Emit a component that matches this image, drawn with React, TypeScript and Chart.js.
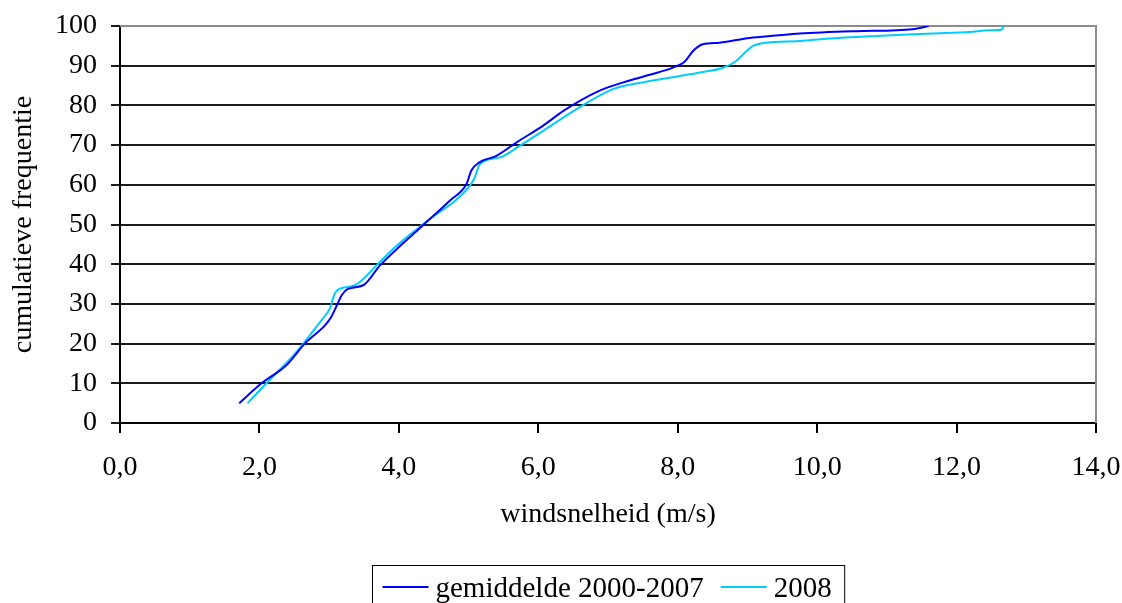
import React, { useEffect, useRef } from "react";
import { Chart, registerables } from "chart.js";

Chart.register(...registerables);

// ---- Data ----
const SERIES_LABELS = ["gemiddelde 2000-2007", "2008"];
const SERIES_COLORS = ["#0000ff", "#00ccff"];

const GEM_X = [1.71, 2.03, 2.39, 2.65, 2.94, 3.03, 3.11, 3.18, 3.27, 3.49, 3.73, 4.37, 4.73, 4.97, 5.04, 5.16, 5.40, 5.69, 6.07, 6.36, 6.88, 7.22, 7.60, 7.93, 8.10, 8.22, 8.36, 8.60, 9.03, 9.41, 9.75, 10.56, 11.37, 11.6];
const GEM_Y = [5, 10, 14.6, 20, 24.6, 26.7, 29.6, 32.2, 33.8, 34.7, 39.7, 50.2, 56, 60.2, 63.6, 65.7, 67.3, 70.7, 74.9, 78.6, 83.7, 85.8, 87.7, 89.5, 91, 93.7, 95.4, 95.8, 97, 97.6, 98.1, 98.7, 99.2, 100];

const Y2008_X = [1.83, 2.10, 2.49, 2.63, 2.89, 3.01, 3.08, 3.15, 3.37, 3.68, 3.92, 4.37, 5.02, 5.09, 5.16, 5.45, 5.73, 6.07, 6.59, 7.07, 7.50, 8.03, 8.32, 8.65, 8.84, 8.94, 9.08, 9.27, 9.75, 10.13, 10.85, 11.66, 12.19, 12.47, 12.66, 12.67];
const Y2008_Y = [5, 10, 17.1, 20, 25.9, 28.8, 32.6, 33.8, 34.7, 39.7, 43.9, 50.4, 59.8, 61.9, 65.2, 66.9, 69.8, 73.6, 79.5, 84.1, 85.8, 87.4, 88.3, 89.5, 91.2, 92.9, 95, 95.8, 96.2, 96.8, 97.5, 98.1, 98.5, 98.9, 99.2, 100];

const X_TICK_LABELS = ["0,0", "2,0", "4,0", "6,0", "8,0", "10,0", "12,0", "14,0"];
const Y_TICK_LABELS = ["0", "10", "20", "30", "40", "50", "60", "70", "80", "90", "100"];

const X_TITLE = "windsnelheid (m/s)";
const Y_TITLE = "cumulatieve frequentie";

const FONT_FAMILY = "'Liberation Serif', 'Times New Roman', serif";
const FONT_SIZE = 28;
const LEGEND_FONT_SIZE = 29;

const toPoints = (xs: number[], ys: number[]) => xs.map((x, i) => ({ x, y: ys[i] }));

const plotFramePlugin = {
  id: "plotFrame",
  beforeDatasetsDraw(chart: any) {
    const { ctx, chartArea } = chart;
    const { left, top, right, bottom } = chartArea;
    ctx.save();
    ctx.strokeStyle = "#8c8c8c";
    ctx.lineWidth = 2;
    ctx.beginPath();
    ctx.moveTo(left, top);
    ctx.lineTo(right, top);
    ctx.lineTo(right, bottom);
    ctx.stroke();
    ctx.restore();
  },
};

const boxLegendPlugin = {
  id: "boxLegend",
  afterDraw(chart: any) {
    const { ctx, chartArea } = chart;
    const datasets = chart.data.datasets;
    ctx.save();
    ctx.font = `${LEGEND_FONT_SIZE}px ${FONT_FAMILY}`;
    const lineLen = 46;
    const gapLineText = 7;
    const gapItems = 17;
    const padL = 10;
    const padR = 13;
    const widths = datasets.map((d: any) => ctx.measureText(d.label).width);
    let total = padL + padR;
    widths.forEach((w: number, i: number) => {
      total += lineLen + gapLineText + w;
      if (i < widths.length - 1) total += gapItems;
    });
    const cx = (chartArea.left + chartArea.right) / 2;
    const boxLeft = Math.round(cx - total / 2) + 0.5;
    const boxTop = 565.5;
    const boxBottom = 606;
    ctx.strokeStyle = "#000";
    ctx.lineWidth = 1;
    ctx.strokeRect(boxLeft, boxTop, total, boxBottom - boxTop);
    let x = boxLeft + padL;
    const yMid = 587;
    datasets.forEach((d: any, i: number) => {
      ctx.strokeStyle = d.borderColor;
      ctx.lineWidth = 2;
      ctx.beginPath();
      ctx.moveTo(x, yMid);
      ctx.lineTo(x + lineLen, yMid);
      ctx.stroke();
      x += lineLen + gapLineText;
      ctx.fillStyle = "#000";
      ctx.textAlign = "left";
      ctx.textBaseline = "alphabetic";
      ctx.fillText(d.label, x, 597);
      x += widths[i] + gapItems;
    });
    ctx.restore();
  },
};

export default function App() {
  const canvasRef = useRef<HTMLCanvasElement | null>(null);

  useEffect(() => {
    document.body.style.margin = "0";
    const canvas = canvasRef.current;
    if (!canvas) return;
    const chart = new Chart(canvas, {
      type: "scatter",
      data: {
        datasets: [
          {
            label: SERIES_LABELS[0],
            data: toPoints(GEM_X, GEM_Y),
            borderColor: SERIES_COLORS[0],
            backgroundColor: SERIES_COLORS[0],
            showLine: true,
            borderWidth: 2,
            pointRadius: 0,
            cubicInterpolationMode: "monotone",
          },
          {
            label: SERIES_LABELS[1],
            data: toPoints(Y2008_X, Y2008_Y),
            borderColor: SERIES_COLORS[1],
            backgroundColor: SERIES_COLORS[1],
            showLine: true,
            borderWidth: 2,
            pointRadius: 0,
            cubicInterpolationMode: "monotone",
          },
        ],
      },
      options: {
        animation: false,
        responsive: false,
        devicePixelRatio: 1,
        layout: { padding: { left: 0, top: 26, right: 26, bottom: 70 } },
        plugins: {
          legend: { display: false },
          tooltip: { enabled: false },
        },
        scales: {
          x: {
            type: "linear",
            min: 0,
            max: 14,
            afterFit: (scale: any) => {
              scale.height = 110;
              scale.paddingLeft = 0;
              scale.paddingRight = 20;
            },
            afterBuildTicks: (scale: any) => {
              scale.ticks = X_TICK_LABELS.map((_, i) => ({ value: i * 2 }));
            },
            ticks: {
              color: "#000",
              font: { family: FONT_FAMILY, size: FONT_SIZE },
              padding: 18,
              maxRotation: 0,
              autoSkip: false,
              callback: (_v: any, i: number) => X_TICK_LABELS[i],
            },
            grid: {
              display: true,
              drawOnChartArea: false,
              drawTicks: true,
              tickLength: 10,
              color: "#000",
              lineWidth: 2,
            },
            border: { display: true, color: "#000", width: 2 },
            title: {
              display: true,
              text: X_TITLE,
              color: "#000",
              font: { family: FONT_FAMILY, size: FONT_SIZE },
              padding: { top: 0, bottom: 2 },
            },
          },
          y: {
            type: "linear",
            min: 0,
            max: 100,
            afterFit: (scale: any) => {
              scale.width = 120;
              scale.paddingTop = 0;
              scale.paddingBottom = 0;
            },
            afterBuildTicks: (scale: any) => {
              scale.ticks = Y_TICK_LABELS.map((_, i) => ({ value: i * 10 }));
            },
            ticks: {
              color: "#000",
              font: { family: FONT_FAMILY, size: FONT_SIZE },
              padding: 14,
              autoSkip: false,
              callback: (_v: any, i: number) => Y_TICK_LABELS[i],
            },
            grid: {
              display: true,
              drawOnChartArea: true,
              drawTicks: true,
              tickLength: 9,
              color: "#1a1a1a",
              lineWidth: 2,
            },
            border: { display: true, color: "#000", width: 2 },
            title: {
              display: true,
              text: Y_TITLE,
              color: "#000",
              font: { family: FONT_FAMILY, size: FONT_SIZE },
              padding: { top: 7, bottom: 0 },
            },
          },
        },
      },
      plugins: [plotFramePlugin, boxLegendPlugin],
    });
    return () => chart.destroy();
  }, []);

  return (
    <div style={{ position: "fixed", left: 0, top: 0, width: 1122, height: 603, background: "#fff" }}>
      <canvas ref={canvasRef} width={1122} height={603} style={{ display: "block", width: 1122, height: 603 }} />
    </div>
  );
}
